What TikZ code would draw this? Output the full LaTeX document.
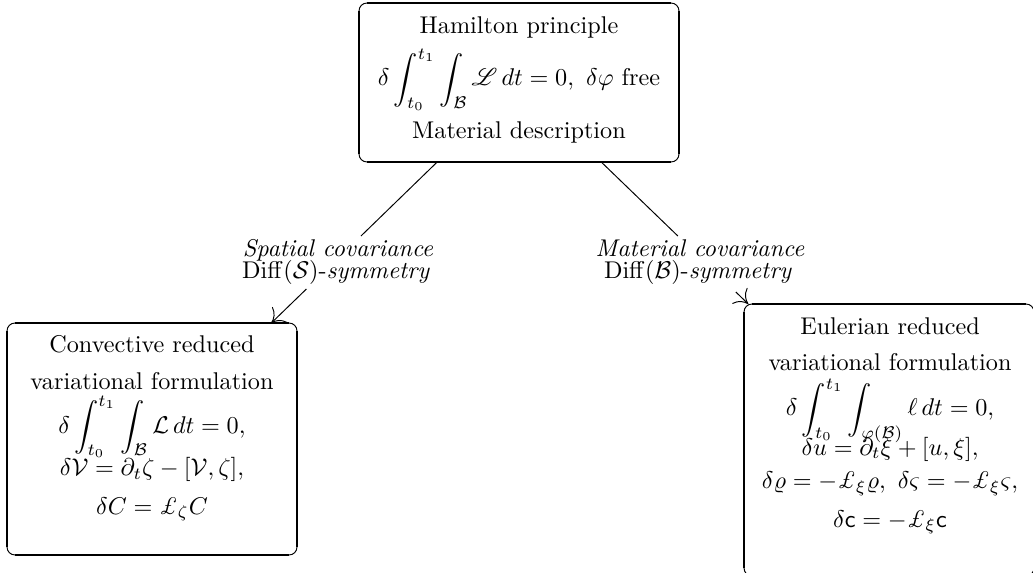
\documentclass[tikz,border=0pt]{standalone}
\usepackage{amsmath,amssymb}
\usepackage{mathrsfs}
\usetikzlibrary{arrows.meta,calc}
\tikzset{
  framebox/.style={inner sep=0pt, outer sep=0pt},
  ln/.style={anchor=base, inner sep=0pt},
  conn/.style={line width=0.4pt},
  arr/.style={line width=0.4pt, -{Computer Modern Rightarrow[length=5pt,width=9pt]}},
}
\newcommand\roundframe[1]{%
 \draw[line width=0.4pt, rounded corners=3.3pt] (#1.south west) rectangle (#1.north east);
 \draw[line width=0.8pt] ([xshift=3.3pt]#1.north west) -- ([xshift=-3.3pt]#1.north east);
 \draw[line width=0.6pt] ([yshift=-3.3pt]#1.north west) -- ([yshift=3.3pt]#1.south west);
 \draw[line width=0.8pt] ([yshift=-3.3pt]#1.north east) -- ([yshift=3.3pt]#1.south east);
 \draw[line width=1.2pt] ([xshift=3.3pt]#1.south west) -- ([xshift=-3.3pt]#1.south east);
}
\begin{document}
\begin{tikzpicture}[x=0.413pt, y=-0.413pt]
\useasboundingbox (0,0) rectangle (1033,573);
% frames
\node[framebox, minimum width={320*0.413pt}, minimum height={159*0.413pt}] (top) at (519,82.5) {};
\node[framebox, minimum width={290*0.413pt}, minimum height={232*0.413pt}] (lbox) at (152,439) {};
\node[framebox, minimum width={290*0.413pt}, minimum height={272*0.413pt}] (rbox) at (889,440) {};
\roundframe{top}
\roundframe{lbox}
\roundframe{rbox}
% top box text
\node[ln] (t1) at (519,34) {Hamilton principle};
\node[ln] (t2) at (519,86) {$\displaystyle\delta\int_{t_0}^{t_1}\int_{\mathcal B}\mathscr L\,dt=0,\ \delta\varphi$ free};
\node[ln] (t3) at (519,139) {Material description};
% left box text
\node[ln] (l1) at (152,353) {Convective reduced};
\node[ln] (l2) at (152,389) {variational formulation};
\node[ln] (l3) at (152,433) {$\displaystyle\delta\int_{t_0}^{t_1}\int_{\mathcal B}\mathcal L\,dt=0,$};
\node[ln] (l4) at (152,476) {$\delta\mathcal V=\partial_t\zeta-[\mathcal V,\zeta],$};
\node[ln] (l5) at (152,514) {$\delta C=\pounds_\zeta C$};
% right box text
\node[ln] (r1) at (890,334) {Eulerian reduced};
\node[ln] (r2) at (890,371) {variational formulation};
\node[ln] (r3) at (890,416) {$\displaystyle\delta\int_{t_0}^{t_1}\int_{\varphi(\mathcal B)}\ell\,dt=0,$};
\node[ln] (r4) at (890,455) {$\delta u=\partial_t\xi+[u,\xi],$};
\node[ln] (r5) at (890,489) {$\delta\varrho=-\pounds_\xi\varrho,\ \delta\varsigma=-\pounds_\xi\varsigma,$};
\node[ln] (r6) at (890,527) {$\delta\mathsf{c}=-\pounds_\xi\mathsf{c}$};
% labels
\node[ln] (la1) at (338,257) {\textit{Spatial covariance}};
\node[ln] (la2) at (336,279) {$\mathrm{Diff}(\mathcal S)$-\textit{symmetry}};
\node[ln] (lb1) at (700,257) {\textit{Material covariance}};
\node[ln] (lb2) at (698,279) {$\mathrm{Diff}(\mathcal B)$-\textit{symmetry}};
% connectors (straight lines from top to box, broken by the label)
\coordinate (ls) at ($(top.center)!0.4306!(lbox.center)$);
\coordinate (le) at ($(top.center)!0.5792!(lbox.center)$);
\coordinate (rs) at ($(top.center)!0.4294!(rbox.center)$);
\coordinate (re) at ($(top.center)!0.5860!(rbox.center)$);
\draw[conn] (top) -- (ls);
\draw[arr] (le) -- (lbox);
\draw[conn] (top) -- (rs);
\draw[arr] (re) -- (rbox);
\end{tikzpicture}
\end{document}
